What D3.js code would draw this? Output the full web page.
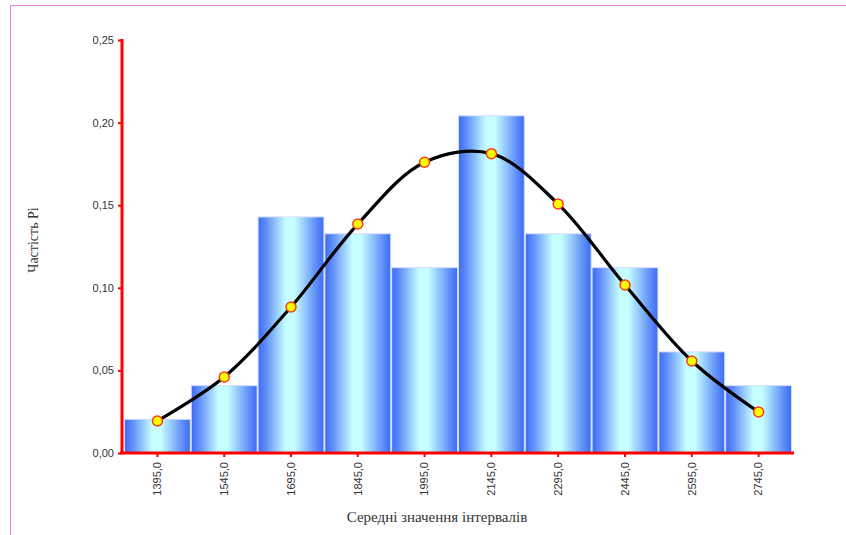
<!DOCTYPE html>
<html><head><meta charset="utf-8">
<script src="https://cdn.jsdelivr.net/npm/d3@7"></script>
<style>body{margin:0;background:#fff}svg{display:block}</style>
</head><body>
<svg id="c" width="846" height="535"></svg>
<script>
const categories = ["1395,0","1545,0","1695,0","1845,0","1995,0","2145,0","2295,0","2445,0","2595,0","2745,0"];
const barValues = [0.0204,0.0408,0.1429,0.1327,0.1122,0.2041,0.1327,0.1122,0.0612,0.0408];
const curveValues = [0.0194,0.0460,0.0884,0.1386,0.1760,0.1812,0.1507,0.1017,0.0557,0.0248];
const yTicks = [0,0.05,0.10,0.15,0.20,0.25];
const xTitle = "Середні значення інтервалів";
const yTitle = "Частість Pi";

const svg = d3.select("#c");
// frame
svg.append("line").attr("x1",10).attr("x2",846).attr("y1",5.5).attr("y2",5.5).attr("stroke","#e67ee6").attr("stroke-width",1);
svg.append("line").attr("x1",10.5).attr("x2",10.5).attr("y1",5).attr("y2",535).attr("stroke","#e67ee6").attr("stroke-width",1);

const x = d3.scaleBand().domain(categories).range([124,792]).padding(0);
const y = d3.scaleLinear().domain([0,0.25]).range([453,40]);

const defs = svg.append("defs");
const g = defs.append("linearGradient").attr("id","bg").attr("x1","0").attr("x2","1").attr("y1","0").attr("y2","0");
g.append("stop").attr("offset","0%").attr("stop-color","#3b6cf4");
g.append("stop").attr("offset","12%").attr("stop-color","#5f8ef8");
g.append("stop").attr("offset","42%").attr("stop-color","#c6ffff");
g.append("stop").attr("offset","55%").attr("stop-color","#c6ffff");
g.append("stop").attr("offset","88%").attr("stop-color","#5f8ef8");
g.append("stop").attr("offset","100%").attr("stop-color","#3b6cf4");

svg.append("g").selectAll("rect").data(barValues).join("rect")
  .attr("x",(d,i)=>x(categories[i])+0.5)
  .attr("y",d=>y(d))
  .attr("width",x.bandwidth()-1)
  .attr("height",d=>y(0)-y(d))
  .attr("fill","url(#bg)")
  .attr("stroke","#d4dcff").attr("stroke-width",1);

// axes
const yAxis = svg.append("g").attr("transform","translate(122,0)")
  .call(d3.axisLeft(y).tickValues(yTicks).tickFormat(d=>d3.format(".2f")(d).replace(".",",")).tickSize(4).tickSizeOuter(0));
yAxis.select(".domain").remove();
yAxis.append("line").attr("x1",0).attr("x2",0).attr("y1",y(0.25)-1).attr("y2",y(0)+1).attr("stroke","#ff0000").attr("stroke-width",3);
yAxis.selectAll(".tick line").attr("stroke","#ff0000").attr("stroke-width",2);
yAxis.selectAll(".tick text").attr("x",-8).attr("fill","#333").style("font-family","Arial, 'Liberation Sans', sans-serif").style("font-size","11px");

const xAxis = svg.append("g").attr("transform","translate(0,453)")
  .call(d3.axisBottom(x).tickSize(4).tickSizeOuter(0));
xAxis.select(".domain").remove();
xAxis.append("line").attr("x1",120).attr("x2",794).attr("y1",0).attr("y2",0).attr("stroke","#ff0000").attr("stroke-width",3);
xAxis.selectAll(".tick line").attr("stroke","#ff0000").attr("stroke-width",2);
xAxis.selectAll(".tick text")
  .attr("transform","rotate(-90)").attr("x",-9).attr("y",0).attr("dy","0.35em")
  .attr("text-anchor","end").attr("fill","#333")
  .style("font-family","Arial, 'Liberation Sans', sans-serif").style("font-size","11px");

// curve
const cx = (d,i)=>x(categories[i])+x.bandwidth()/2;
const line = d3.line().x(cx).y(d=>y(d)).curve(d3.curveCatmullRom.alpha(0.5));
svg.append("path").datum(curveValues).attr("d",line).attr("fill","none").attr("stroke","#000").attr("stroke-width",3.2);
svg.append("g").selectAll("circle").data(curveValues).join("circle")
  .attr("cx",cx).attr("cy",d=>y(d)).attr("r",5)
  .attr("fill","#ffff00").attr("stroke","#ff3a1a").attr("stroke-width",1.5);

// titles
svg.append("text").attr("x",437).attr("y",522).attr("text-anchor","middle")
  .style("font-family","'Liberation Serif','Times New Roman',serif").style("font-size","15px").attr("fill","#333").text(xTitle);
svg.append("text").attr("transform","translate(38,240) rotate(-90)").attr("text-anchor","middle")
  .style("font-family","'Liberation Serif','Times New Roman',serif").style("font-size","14px").attr("fill","#333").text(yTitle);
</script>
</body></html>
